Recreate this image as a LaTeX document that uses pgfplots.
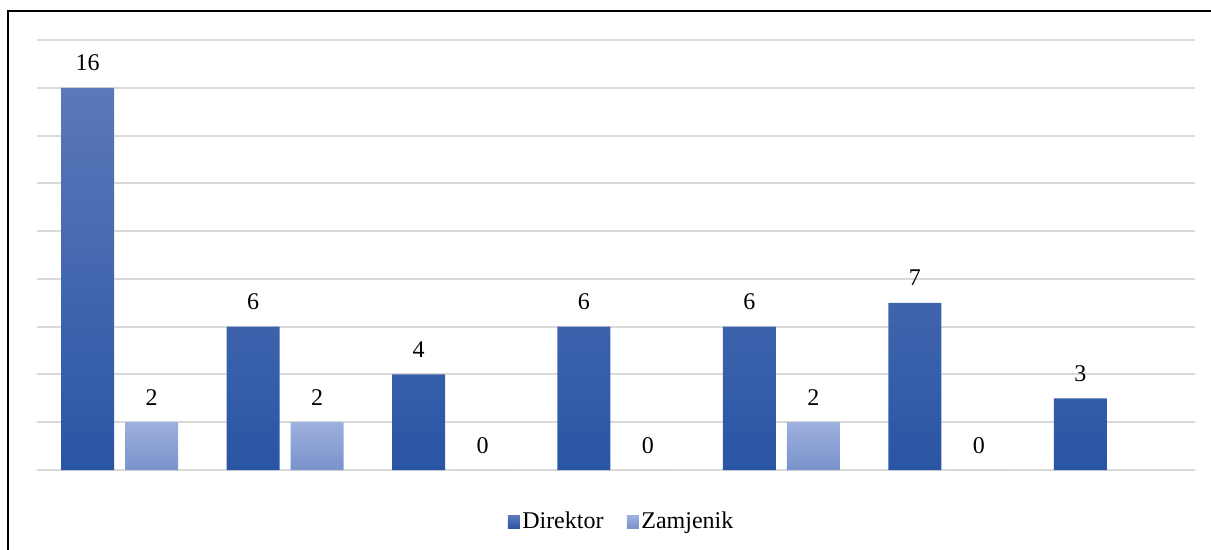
\documentclass[border=0pt,12pt]{standalone}
\usepackage{fontspec}
\setmainfont{Liberation Serif}
\usepackage{pgfplots}
\pgfplotsset{compat=1.18}

\definecolor{dirTop}{HTML}{5B78B9}
\definecolor{dirBot}{HTML}{2A55A5}
\definecolor{zamTop}{HTML}{9DB0DE}
\definecolor{zamBot}{HTML}{7A92CB}
\definecolor{gridgray}{HTML}{D9D9D9}

\begin{document}
\begin{tikzpicture}
% 1 px of the reference = 0.5pt
\useasboundingbox (0pt,0pt) rectangle (605.5pt,-275pt);
\draw[line width=1.1pt] (4pt,-280pt) -- (4pt,-5.5pt) -- (610pt,-5.5pt);

\begin{axis}[
  at={(18.5pt,-235pt)}, anchor=south west,
  scale only axis,
  width=579pt, height=215pt,
  xmin=-0.5, xmax=6.5,
  ymin=0, ymax=18,
  ybar=5.5pt, bar width=26.5pt,
  axis line style={draw=none},
  xtick=\empty,
  ytick={0,2,...,18}, yticklabels={},
  major tick length=0pt,
  ymajorgrids,
  grid style={gridgray, line width=1pt},
  /pgf/number format/assume math mode=true,
  nodes near coords,
  every node near coord/.append style={anchor=base, yshift=8.5pt, inner sep=0pt, font=\normalsize},
  legend style={at={(0.505,-0.121)}, anchor=center, draw=none, fill=none,
    legend columns=-1, font=\normalsize,
    nodes={inner sep=1.2pt},
    /tikz/every even column/.append style={column sep=10.5pt}},
  legend image code/.code={\draw[#1,draw=none] (0pt,-3.1pt) rectangle (6pt,3.1pt);},
]
\addplot[draw=none, top color=dirTop, bottom color=dirBot]
  coordinates {(0,16) (1,6) (2,4) (3,6) (4,6) (5,7) (6,3)};
\addlegendentry{Direktor}
\addplot[draw=none, top color=zamTop, bottom color=zamBot]
  coordinates {(0,2) (1,2) (2,0) (3,0) (4,2) (5,0)};
\addlegendentry{Zamjenik}
\end{axis}
\end{tikzpicture}
\end{document}
